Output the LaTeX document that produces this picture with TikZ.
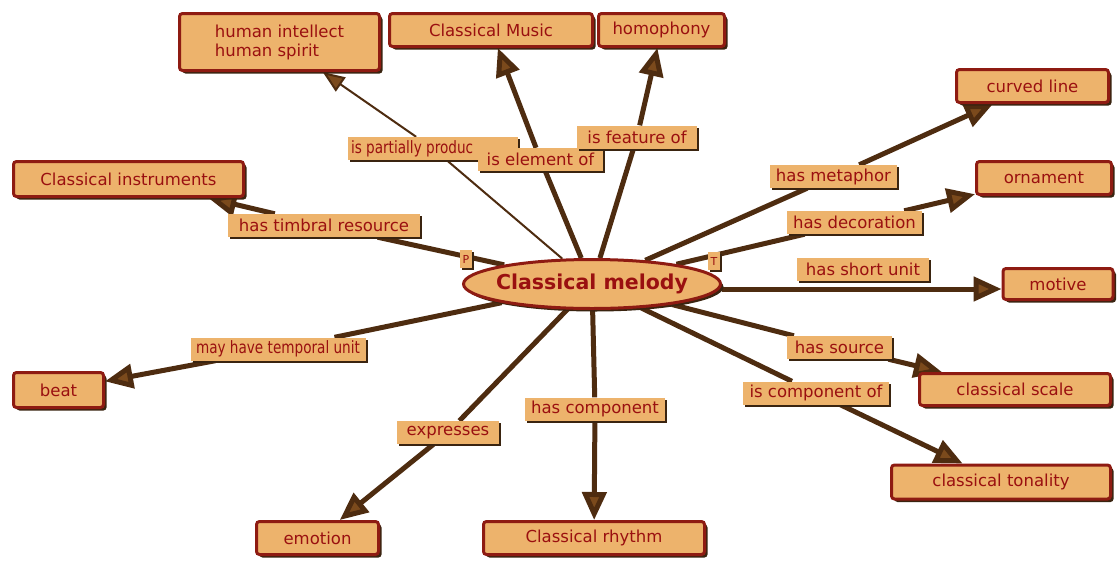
\documentclass[tikz,border=0pt]{standalone}
\usepackage{fontspec}
\setmainfont{DejaVu Sans}
\newfontfamily\narrowfont{DejaVu Sans}[FakeStretch=0.8]
\usetikzlibrary{shapes.geometric,arrows.meta,shadows,backgrounds}
\definecolor{boxfill}{HTML}{EDB36C}
\definecolor{boxedge}{HTML}{8E1B12}
\definecolor{txtred}{HTML}{9A1010}
\definecolor{connbrown}{HTML}{4E2C10}
\definecolor{tipbrown}{HTML}{7B4A1C}
\definecolor{shadebrown}{HTML}{3A2410}
\tikzset{
  concept/.style={draw=boxedge, line width=3pt, fill=boxfill, rounded corners=3pt,
    text=txtred, font=\fontsize{16.5}{19}\selectfont, inner sep=0pt,
    drop shadow={shadow xshift=3pt,shadow yshift=-3pt,fill=shadebrown,opacity=1}},
  linklab/.style={fill=boxfill, text=txtred, font=\fontsize{16.5}{18}\selectfont, inner sep=0pt,
    minimum height=23pt,
    drop shadow={shadow xshift=2pt,shadow yshift=-2pt,fill=shadebrown,opacity=1}},
  narrowlab/.style={linklab, font=\narrowfont\fontsize{17}{18}\selectfont},
  tag/.style={fill=boxfill, text=txtred, font=\fontsize{11}{12}\selectfont, inner sep=0pt,
    minimum width=12pt, minimum height=18pt,
    drop shadow={shadow xshift=1.5pt,shadow yshift=-1.5pt,fill=shadebrown,opacity=1}},
  link/.style={draw=connbrown, line width=5pt},
  arr/.style={link, -{Triangle[length=28pt,width=24pt,fill=tipbrown]}},
  thinlink/.style={draw=connbrown, line width=2pt},
  thinarr/.style={thinlink, -{Triangle[length=22pt,width=17pt,fill=tipbrown]}}
}
\begin{document}
\begin{tikzpicture}[x=1pt,y=-1pt]
\useasboundingbox (0,0) rectangle (1117,560);

% concepts
\node[concept, minimum width=200pt, minimum height=57pt, align=left] (hi) at (279.5,42) {human intellect\\human spirit};
\node[concept, minimum width=203pt, minimum height=33pt] (cmusic) at (491,30) {Classical Music};
\node[concept, minimum width=126pt, minimum height=33pt] (homo) at (661.5,30) {homophony};
\node[concept, minimum width=152pt, minimum height=33pt] (curved) at (1032.5,86) {curved line};
\node[concept, minimum width=135pt, minimum height=33pt] (orn) at (1044,178) {ornament};
\node[concept, minimum width=110pt, minimum height=31pt] (motive) at (1058,284) {motive};
\node[concept, minimum width=230pt, minimum height=35pt] (cinst) at (128.5,179) {Classical instruments};
\node[concept, minimum width=90pt, minimum height=35pt] (beat) at (58.5,390) {beat};
\node[concept, minimum width=122pt, minimum height=33pt] (emotion) at (317.5,538) {emotion};
\node[concept, minimum width=221pt, minimum height=33pt] (rhythm) at (594,538) {Classical rhythm};
\node[concept, minimum width=191pt, minimum height=32pt] (scale) at (1015,389.5) {classical scale};
\node[concept, minimum width=219pt, minimum height=34pt] (tonal) at (1001,482) {classical tonality};

% central concept
\node[ellipse, draw=boxedge, line width=3pt, fill=boxfill, minimum width=257pt, minimum height=49pt,
  inner sep=0pt, text=txtred, font=\bfseries\fontsize{20.5}{22}\selectfont,
  drop shadow={shadow xshift=3pt,shadow yshift=-3pt,fill=shadebrown,opacity=1}] (mel) at (592,284) {\makebox[150pt]{Classical melody}};
\node[tag] (ptag) at (466,259) {P};
\node[tag] (ttag) at (714,261) {T};

% link labels
\node[narrowlab, minimum width=170pt] (lpart) at (433,148.5) {\makebox[164pt][l]{is partially produc}};
\node[linklab, minimum width=125pt] (lelem) at (540.5,159.5) {is element of};
\node[linklab, minimum width=120pt] (lfeat) at (637,137) {is feature of};
\node[linklab, minimum width=192pt] (ltimb) at (324,225.5) {has timbral resource};
\node[linklab, minimum width=127pt] (lmeta) at (833.5,176.5) {has metaphor};
\node[linklab, minimum width=135pt] (ldeco) at (854.5,222.5) {has decoration};
\node[linklab, minimum width=132pt] (lshort) at (863,269.5) {has short unit};
\node[narrowlab, minimum width=175pt] (ltemp) at (278,349) {may have temporal unit};
\node[linklab, minimum width=102pt] (lexp) at (448,432.5) {expresses};
\node[linklab, minimum width=140pt] (lcomp) at (595,409) {has component};
\node[linklab, minimum width=105pt] (lsrc) at (839.5,347.5) {has source};
\node[linklab, minimum width=146pt] (lcompof) at (816,393) {is component of};

% connectors
\begin{scope}[on background layer]
\fill[white] (0,0) rectangle (1117,560);
\draw[thinlink] (mel) -- (lpart);
\draw[thinarr] (lpart) -- (hi);
\draw[link] (mel) -- (lelem);
\draw[arr] (lelem) -- (cmusic);
\draw[link] (mel) -- (lfeat);
\draw[arr] (lfeat) -- (homo);
\draw[link] (mel) -- (lmeta);
\draw[arr] (lmeta) -- (curved);
\draw[link] (mel) -- (ldeco);
\draw[arr] (ldeco) -- (orn);
\draw[arr] ([yshift=-5pt]mel.east) -- ([yshift=-5pt]motive.west);
\draw[link] (mel) -- (ltimb);
\draw[arr] (ltimb) -- (cinst);
\draw[link] (mel) -- (ltemp);
\draw[arr] (ltemp) -- (beat);
\draw[link] (mel) -- (lexp);
\draw[arr] (lexp) -- (emotion);
\draw[link] (mel) -- (lcomp);
\draw[arr] (lcomp) -- (rhythm);
\draw[link] (mel) -- (lsrc);
\draw[arr] (lsrc) -- (scale);
\draw[link] (mel) -- (lcompof);
\draw[arr] (lcompof) -- (tonal);
\end{scope}
\end{tikzpicture}
\end{document}
